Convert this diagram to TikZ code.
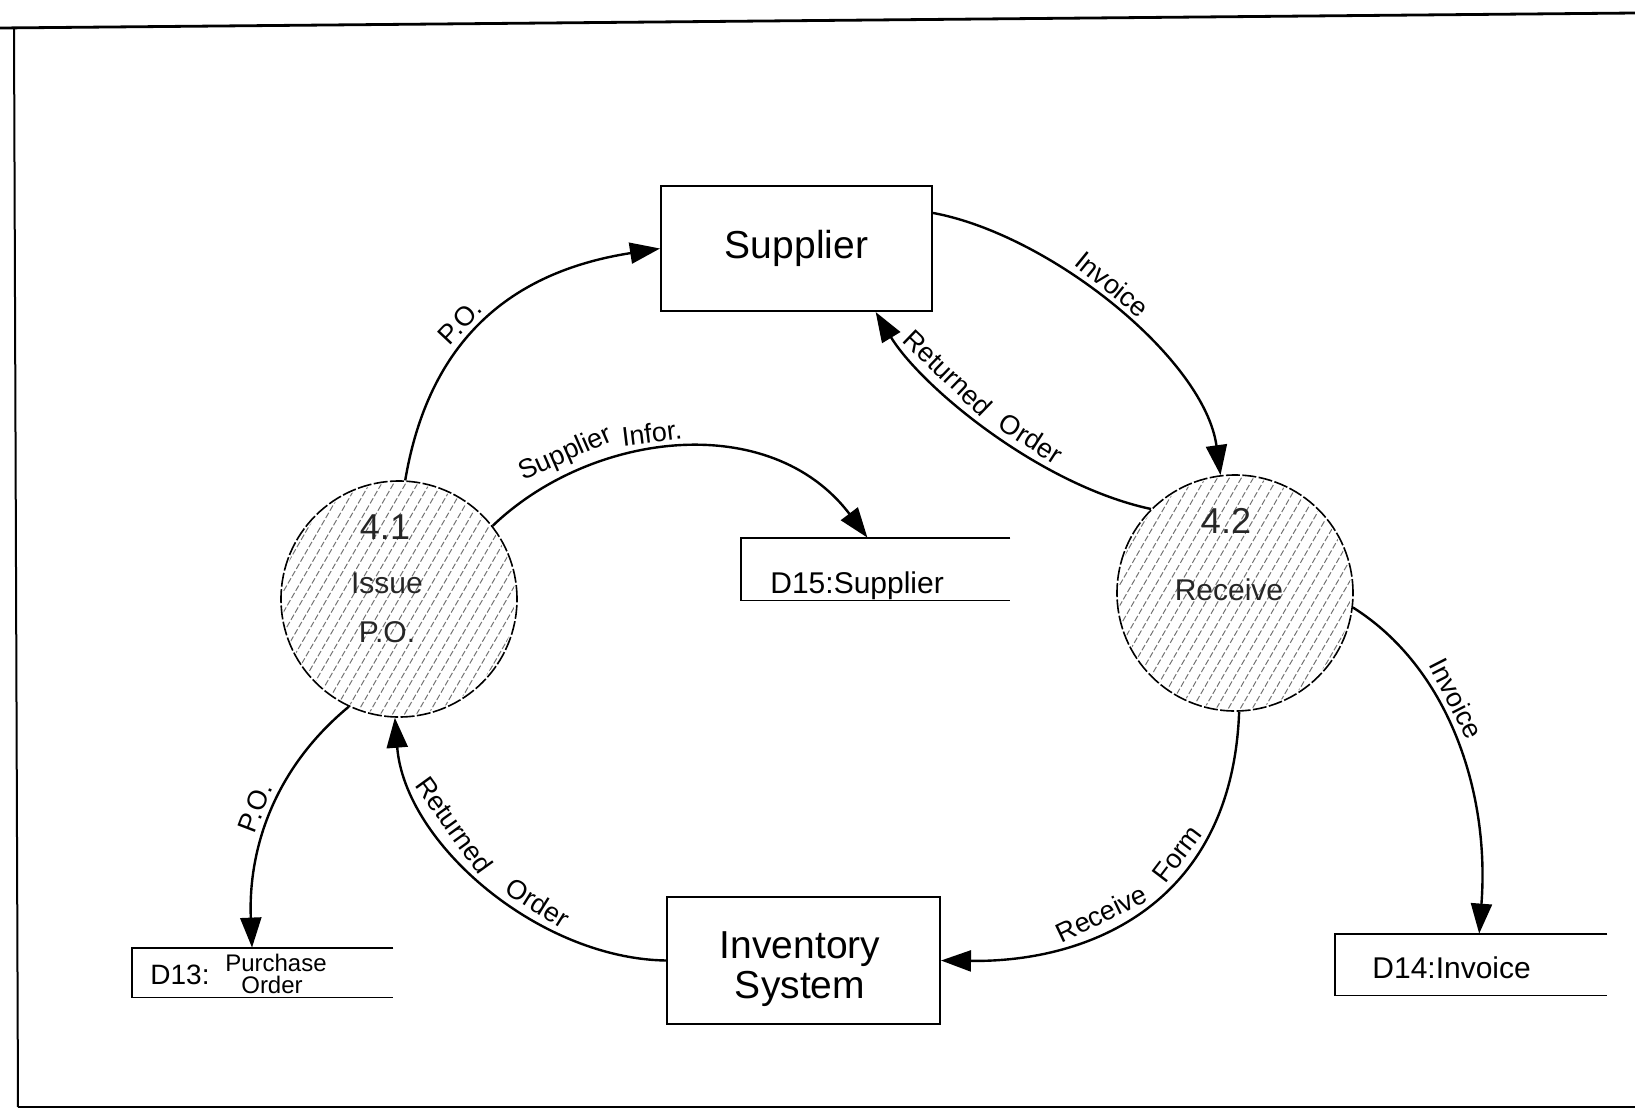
\documentclass[tikz,border=0pt]{standalone}
\usepackage{fontspec}
\setmainfont{Liberation Sans}
\usetikzlibrary{arrows.meta,calc}

% font sizes used in the data flow diagram
\newcommand\lblfont{\fontsize{13.5}{16}\selectfont}
\newcommand\extfont{\fontsize{19.5}{20}\selectfont}
\newcommand\numfont{\fontsize{18}{20}\selectfont}
\newcommand\procfont{\fontsize{15}{17}\selectfont}
\newcommand\dfont{\fontsize{15}{18}\selectfont}

\begin{document}
\begin{tikzpicture}[x=0.5pt,y=-0.5pt,
  ext/.style={draw, line width=1pt, inner sep=0pt, font=\extfont, align=center},
  proc/.style={circle, draw, line width=0.8pt, dash pattern=on 7pt off 1.2pt,
               minimum size=118pt, inner sep=0pt},
  proctext/.style={inner sep=0pt, text=black!85},
  store/.style={inner sep=0pt},
  storeline/.style={line width=0.9pt},
  storetext/.style={inner sep=0pt, anchor=base west, font=\dfont},
  flow/.style={line width=1.2pt, -{Triangle[length=15pt,width=10.5pt]}},
  lbl/.style={sloped, above=2.5pt, inner sep=0.5pt, font=\lblfont},
  hatch/.style={black!55, line width=0.5pt, dash pattern=on 3pt off 1.2pt},
  frame/.style={line width=1.4pt}
]
\useasboundingbox (0,0) rectangle (1635,1110);

% page frame
\coordinate (ftl) at (0,28);
\coordinate (ftr) at (1635,13);
\coordinate (fl1) at (14,27);
\coordinate (fl2) at (18,1107);
\coordinate (fbr) at (1635,1107);
\draw[frame] (ftl) -- (ftr);
\draw[line width=1pt] (fl1) -- (fl2);
\draw[frame] (fl2) -- (fbr);

% external entities
\node[ext, minimum width=135.5pt, minimum height=62.5pt] (sup) at (796.5,248.5) {Supplier};
\node[ext, minimum width=136.5pt, minimum height=63.5pt] (inv) at (803.5,960.5) {};
\node[inner sep=0pt, font=\extfont, align=center] (invt) at (800,969) {Inventory\\System};

% processes
\node[proc] (c41) at (399,599) {};
\node[proc] (c42) at (1235,593) {};

\foreach \c in {c41,c42}{
  \begin{scope}
    \clip (\c.center) circle[radius=58pt];
    \foreach \k in {-24,...,24}
      \draw[hatch] ($(\c.center)+(\k*12-75,130)$) -- ++(150,-260);
  \end{scope}
}

\node[proctext, font=\numfont] (n41) at (385,527) {4.1};
\node[proctext, font=\procfont] (t41a) at (387,583) {Issue};
\node[proctext, font=\procfont] (t41b) at (387,632) {P.O.};
\node[proctext, font=\numfont] (n42) at (1226,521) {4.2};
\node[proctext, font=\procfont] (t42) at (1229,590) {Receive};

% data stores
\node[store, minimum width=134.5pt, minimum height=31pt] (d15) at (875.5,569) {};
\draw[storeline] (d15.north east) -- (d15.north west) -- (d15.south west) -- (d15.south east);
\node[storetext] (d15t) at (770,593) {D15:Supplier};

\node[store, minimum width=136pt, minimum height=30.5pt] (d14) at (1471,964.5) {};
\draw[storeline] (d14.north east) -- (d14.north west) -- (d14.south west) -- (d14.south east);
\node[storetext] (d14t) at (1372,978) {D14:Invoice};

\node[store, minimum width=130.5pt, minimum height=24.5pt] (d13) at (262.5,972.5) {};
\draw[storeline] (d13.north east) -- (d13.north west) -- (d13.south west) -- (d13.south east);
\node[storetext, font=\fontsize{14}{16}\selectfont] (d13t) at (150,984) {D13:};
\node[inner sep=0pt, anchor=base, font=\fontsize{12}{14}\selectfont] (d13a) at (276,971) {Purchase};
\node[inner sep=0pt, anchor=base, font=\fontsize{12}{14}\selectfont] (d13b) at (272,993) {Order};

% connector end points on box edges
\coordinate (supInv) at ($(sup.north east)!0.22!(sup.south east)$);
\coordinate (supRet) at ($(sup.south west)!0.79!(sup.south east)$);
\coordinate (d15in) at ($(d15.north west)!0.47!(d15.north east)$);
\coordinate (d14in) at ($(d14.north west)!0.53!(d14.north east)$);
\coordinate (d13in) at ($(d13.north west)!0.46!(d13.north east)$);

% data flows and their labels
\draw[flow] (c41.87) .. controls +(25,-148) and +(-141,22) .. (sup.west)
  node[lbl, pos=0.43] (lPO1) {P.O.};

\draw[flow] (c41.38) .. controls +(99,-95) and +(-97,-128) .. (d15in)
  node[lbl, pos=0.235] (lSI1) {Supplier}
  node[lbl, pos=0.435] (lSI2) {Infor.};

\draw[flow] (supInv) .. controls +(118,22) and +(-16,-116) .. (c42.97)
  node[lbl, pos=0.46] (lIN1) {Invoice};

\draw[flow] (c42.135) .. controls +(-112,-24) and +(45,74) .. (supRet)
  node[lbl, pos=0.39] (lRO1b) {Order}
  node[lbl, pos=0.69] (lRO1a) {Returned};

\draw[flow] (c42.-7) .. controls +(94,59) and +(11,-144) .. (d14in)
  node[lbl, pos=0.4] (lIN2) {Invoice};

\draw[flow] (c42.-88) .. controls +(-7,191) and +(150,2) .. (inv.east)
  node[lbl, pos=0.34] (lRF2) {Form}
  node[lbl, pos=0.6] (lRF1) {Receive};

\draw[flow] (inv.west) .. controls +(-127,-2) and +(10,126) .. (c41.-92)
  node[lbl, pos=0.37] (lRO2b) {Order}
  node[lbl, pos=0.67] (lRO2a) {Returned};

\draw[flow] (c41.-115) .. controls +(-75,62) and +(-4,-98) .. (d13in)
  node[lbl, pos=0.5] (lPO2) {P.O.};
\end{tikzpicture}
\end{document}
